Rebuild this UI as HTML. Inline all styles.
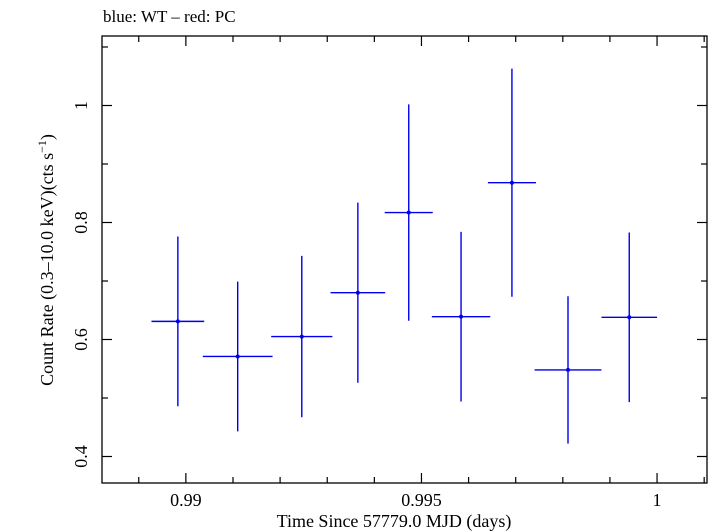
<!DOCTYPE html>
<html><head><meta charset="utf-8"><style>
body{margin:0;background:#fff}
svg{display:block;font-family:"Liberation Serif",serif}
</style></head><body>
<svg id="chart" width="709" height="532">
<text x="103" y="22" font-size="17">blue: WT – red: PC</text>
<rect x="102" y="36" width="605" height="447" fill="none" stroke="#000" stroke-width="1.3"/>
<g id="axes"></g>
<g id="series"></g>
<text x="394" y="527" font-size="18" text-anchor="middle">Time Since 57779.0 MJD (days)</text>
<text transform="translate(53,260) rotate(-90)" font-size="18" text-anchor="middle">Count Rate (0.3–10.0 keV)(cts s<tspan baseline-shift="super" font-size="12">−1</tspan>)</text>
</svg>
<script>
const times=[0.98983,0.99110,0.99246,0.99365,0.99473,0.99584,0.99692,0.99811,0.99941];
const halfWidths=[0.00056,0.00074,0.00065,0.00058,0.00051,0.00062,0.00051,0.00071,0.00059];
const rates=[0.631,0.571,0.605,0.680,0.817,0.639,0.868,0.548,0.638];
const errors=[0.145,0.128,0.138,0.154,0.185,0.145,0.195,0.126,0.145];
const xTicks=[0.99,0.995,1];
const xTickLabels=["0.99","0.995","1"];
const yTicks=[0.4,0.6,0.8,1];
const yTickLabels=["0.4","0.6","0.8","1"];
const X0=102,X1=707,Y0=483,Y1=36;
const xMin=0.98822,xMax=1.00106,yMin=0.3547,yMax=1.1188;
const sx=v=>X0+(v-xMin)/(xMax-xMin)*(X1-X0);
const sy=v=>Y0-(v-yMin)/(yMax-yMin)*(Y0-Y1);
const NS="http://www.w3.org/2000/svg";
function mk(tag,attrs,parent){const e=document.createElementNS(NS,tag);for(const k in attrs)e.setAttribute(k,attrs[k]);parent.appendChild(e);return e;}
const ax=document.getElementById('axes');
for(let i=0;i<=12;i++){
  const v=0.989+i*0.001;if(v>xMax)break;
  const x=sx(v);const major=Math.abs(v-Math.round(v*200)/200)<1e-7;const L=major?10:6;
  const t1=mk('line',{x1:x,x2:x,y1:Y0,y2:Y0-L,stroke:'#000','stroke-width':1.2},ax);
  
  
  const t2=mk('line',{x1:x,x2:x,y1:Y1,y2:Y1+L,stroke:'#000','stroke-width':1.2},ax);
  
  
}
xTicks.forEach((v,i)=>{
  const t=mk('text',{x:sx(v),y:506,'font-size':18,'text-anchor':'middle'},ax);t.textContent=xTickLabels[i];
  
  
});
for(let i=4;i<=11;i++){
  const v=i/10;const y=sy(v);const major=i%2===0;const L=major?10:6;
  const t1=mk('line',{x1:X0,x2:X0+L,y1:y,y2:y,stroke:'#000','stroke-width':1.2},ax);
  
  
  const t2=mk('line',{x1:X1,x2:X1-L,y1:y,y2:y,stroke:'#000','stroke-width':1.2},ax);
  
  
}
yTicks.forEach((v,i)=>{
  const t=mk('text',{transform:`translate(87,${sy(v)}) rotate(-90)`,'font-size':18,'text-anchor':'middle'},ax);t.textContent=yTickLabels[i];
  
  
});
const se=document.getElementById('series');
times.forEach((t,i)=>{
  const g=mk('g',{},se);
  
  
  const y=sy(rates[i]);
  mk('line',{x1:sx(t-halfWidths[i]),x2:sx(t+halfWidths[i]),y1:y,y2:y,stroke:'#0000ee','stroke-width':1.4},g);
  mk('line',{x1:sx(t),x2:sx(t),y1:sy(rates[i]-errors[i]),y2:sy(rates[i]+errors[i]),stroke:'#0000ee','stroke-width':1.4},g);
  mk('circle',{cx:sx(t),cy:y,r:2,fill:'#0000ee'},g);
});
</script>
</body></html>
